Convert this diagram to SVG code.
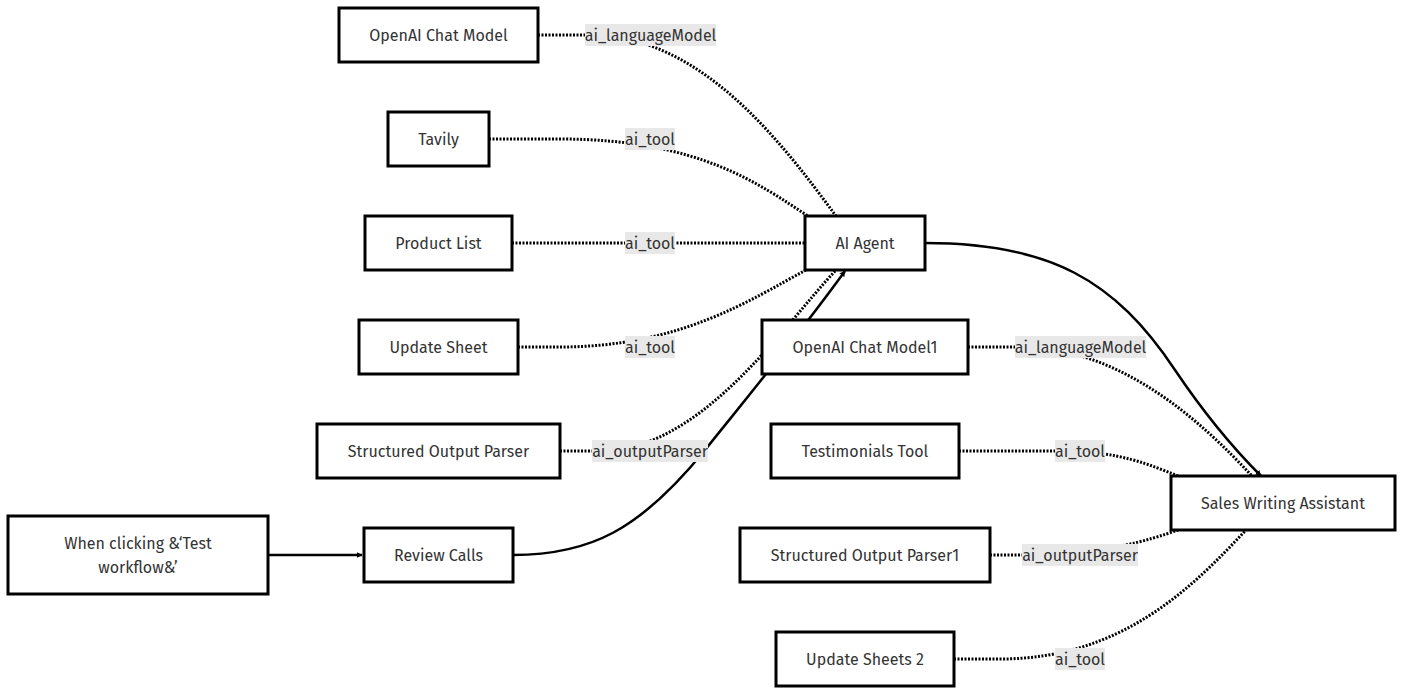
<svg xmlns="http://www.w3.org/2000/svg" width="1403" height="694" viewBox="0 0 1403 694">
<defs>
<marker id="arr" viewBox="0 0 10 10" refX="9" refY="5" markerWidth="6" markerHeight="6" markerUnits="userSpaceOnUse" orient="auto"><path d="M0,0 L10,5 L0,10 z" fill="#000"/></marker>
<style>
.node rect{fill:#fff;stroke:#000;stroke-width:3}
.node text{font-family:"Fira Sans","Noto Sans",sans-serif;font-size:16px;fill:#333;text-anchor:middle;dominant-baseline:central}
.dot{fill:none;stroke:#000;stroke-width:3;stroke-dasharray:2 1.5}
.solid{fill:none;stroke:#000;stroke-width:2.5}
.lbl rect{fill:#e8e8e8}
.lbl text{font-family:"Fira Sans","Noto Sans",sans-serif;font-size:16px;fill:#333;text-anchor:middle;dominant-baseline:central}
</style>
</defs>
<rect width="1403" height="694" fill="#fff"/>
<g id="connectors">
<path class="dot" d="M538,35 L590,35 C700,35 780,140 836,216"/>
<path class="dot" d="M489,139 L560,139 C700,139 760,185 808,216"/>
<path class="dot" d="M512,243 L805,243"/>
<path class="dot" d="M518,347 L560,347 C680,347 750,300 806,270"/>
<path class="dot" d="M560,451 L600,451 C700,451 780,330 836,270"/>
<path class="solid" d="M268,555 L362,555" marker-end="url(#arr)"/>
<path class="solid" d="M513,555 C590,555 640,530 705,450 C745,400 795,340 845,271" marker-end="url(#arr)"/>
<path class="solid" d="M925,243 C1050,243 1115,280 1175,370 C1212,425 1240,455 1261,476" marker-end="url(#arr)"/>
<path class="dot" d="M968,347 L1020,347 C1120,347 1200,420 1252,476"/>
<path class="dot" d="M959,451 L1060,451 C1120,451 1150,465 1178,476"/>
<path class="dot" d="M990,555 L1030,555 C1100,555 1150,540 1178,530"/>
<path class="dot" d="M954,659 L1000,659 C1120,659 1190,590 1246,530"/>
<g class="lbl"><rect x="585" y="24" width="131" height="22"/><text x="650.5" y="35">ai_languageModel</text></g>
<g class="lbl"><rect x="625" y="128" width="50" height="22"/><text x="650" y="139">ai_tool</text></g>
<g class="lbl"><rect x="625" y="232" width="50" height="22"/><text x="650" y="243">ai_tool</text></g>
<g class="lbl"><rect x="625" y="336" width="50" height="22"/><text x="650" y="347">ai_tool</text></g>
<g class="lbl"><rect x="592" y="440" width="116" height="22"/><text x="650" y="451">ai_outputParser</text></g>
<g class="lbl"><rect x="1015" y="336" width="131" height="22"/><text x="1080.5" y="347">ai_languageModel</text></g>
<g class="lbl"><rect x="1055" y="440" width="50" height="22"/><text x="1080" y="451">ai_tool</text></g>
<g class="lbl"><rect x="1022" y="544" width="116" height="22"/><text x="1080" y="555">ai_outputParser</text></g>
<g class="lbl"><rect x="1055" y="648" width="50" height="22"/><text x="1080" y="659">ai_tool</text></g>
</g>
<g id="n-openai" class="node"><rect x="339" y="8" width="199" height="54"/><text x="438.5" y="35">OpenAI Chat Model</text></g>
<g id="n-tavily" class="node"><rect x="388" y="112" width="101" height="54"/><text x="438.5" y="139">Tavily</text></g>
<g id="n-product" class="node"><rect x="365" y="216" width="147" height="54"/><text x="438.5" y="243">Product List</text></g>
<g id="n-update" class="node"><rect x="359" y="320" width="159" height="54"/><text x="438.5" y="347">Update Sheet</text></g>
<g id="n-sop" class="node"><rect x="317" y="424" width="243" height="54"/><text x="438.5" y="451">Structured Output Parser</text></g>
<g id="n-trigger" class="node"><rect x="8" y="516" width="260" height="78"/><text x="138" y="543">When clicking &amp;‘Test</text><text x="138" y="567">workflow&amp;’</text></g>
<g id="n-review" class="node"><rect x="364" y="528" width="149" height="54"/><text x="438.5" y="555">Review Calls</text></g>
<g id="n-agent" class="node"><rect x="805" y="216" width="120" height="54"/><text x="865" y="243">AI Agent</text></g>
<g id="n-openai1" class="node"><rect x="762" y="320" width="206" height="54"/><text x="865" y="347">OpenAI Chat Model1</text></g>
<g id="n-testi" class="node"><rect x="771" y="424" width="188" height="54"/><text x="865" y="451">Testimonials Tool</text></g>
<g id="n-sop1" class="node"><rect x="740" y="528" width="250" height="54"/><text x="865" y="555">Structured Output Parser1</text></g>
<g id="n-update2" class="node"><rect x="776" y="632" width="178" height="54"/><text x="865" y="659">Update Sheets 2</text></g>
<g id="n-swa" class="node"><rect x="1171" y="476" width="224" height="54"/><text x="1283" y="503">Sales Writing Assistant</text></g>
</svg>
